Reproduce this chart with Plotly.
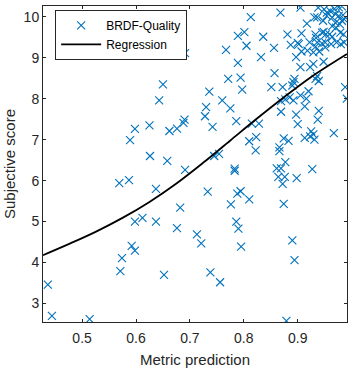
import plotly.graph_objects as go

# Scatter data (metric prediction, subjective score)
metric_pred = [
    0.4365, 0.444, 0.514, 0.569, 0.587, 0.637, 0.598, 0.612, 0.637, 0.592,
    0.598, 0.574, 0.571, 0.652, 0.676, 0.682, 0.650, 0.643, 0.589, 0.598,
    0.625, 0.662, 0.676, 0.626, 0.658, 0.690, 0.688, 0.691, 0.691,
    0.813, 0.868, 0.789, 0.801, 0.805, 0.836, 0.767, 0.856, 0.881, 0.887,
    0.900, 0.907, 0.917, 0.931, 0.832, 0.789, 0.771, 0.794, 0.797, 0.736,
    0.760, 0.730, 0.775, 0.728, 0.742, 0.786, 0.815, 0.828, 0.810, 0.823,
    0.822, 0.745, 0.754, 0.783, 0.783, 0.733, 0.788, 0.794, 0.810, 0.776,
    0.713, 0.721, 0.786, 0.790, 0.795, 0.738, 0.756, 0.879, 0.890, 0.894,
    0.874, 0.864, 0.876, 0.872, 0.898, 0.861, 0.869, 0.877, 0.927, 0.866,
    0.866, 0.874, 0.883, 0.913, 0.925, 0.929, 0.923, 0.931, 0.967,
    0.869, 0.877, 0.885, 0.892, 0.905, 0.916, 0.920, 0.869, 0.897, 0.913,
    0.939, 0.900, 0.937, 0.988, 0.991, 0.857, 0.851, 0.872, 0.894, 0.892,
    0.890, 0.897, 0.936, 0.933, 0.939, 0.929, 0.948, 0.923, 0.905,
    0.905, 0.938, 0.949, 0.954, 0.960, 0.968, 0.976, 0.982, 0.936, 0.947,
    0.954, 0.964, 0.970, 0.976, 0.984, 0.986, 0.970, 0.978, 0.982, 0.964,
    0.971, 0.945, 0.948, 0.959, 0.964, 0.979, 0.985, 0.936, 0.945, 0.951,
    0.962, 0.972, 0.980, 0.986, 0.951, 0.933, 0.929, 0.940, 0.934, 0.918,
    0.907, 0.922, 0.902, 0.933, 0.952,
]
subjective = [
    3.46, 2.70, 2.62, 5.94, 6.01, 5.80, 5.00, 5.09, 5.00, 4.41,
    4.29, 4.11, 3.79, 3.70, 4.84, 5.34, 8.35, 7.96, 6.99, 7.26,
    7.35, 7.21, 7.27, 6.60, 6.48, 7.49, 7.41, 6.26, 9.11,
    9.99, 10.10, 9.53, 9.62, 9.29, 9.51, 9.19, 9.24, 9.57, 9.31,
    9.36, 9.59, 9.83, 9.98, 9.01, 8.87, 8.48, 8.51, 8.22, 8.17,
    7.96, 7.79, 7.76, 7.57, 7.31, 7.45, 7.39, 7.39, 6.96, 7.06,
    6.74, 6.60, 6.65, 6.29, 6.24, 5.73, 5.68, 5.74, 5.54, 5.42,
    4.69, 4.47, 5.00, 4.83, 4.39, 3.76, 3.52, 2.58, 4.54, 4.06,
    5.43, 6.09, 6.09, 5.92, 6.06, 6.30, 6.30, 6.45, 6.28, 6.81,
    6.72, 7.03, 6.97, 7.04, 7.20, 7.13, 7.08, 7.00, 7.16,
    7.94, 7.98, 8.03, 7.96, 8.08, 8.00, 8.18, 7.68, 7.61, 7.81,
    7.70, 7.38, 7.49, 8.28, 8.00, 8.62, 8.28, 8.28, 8.48, 8.40,
    8.32, 9.01, 8.55, 8.48, 8.43, 8.85, 8.90, 8.77, 8.77,
    10.22, 10.22, 10.18, 10.10, 10.14, 10.19, 10.23, 10.25, 9.98, 9.90,
    10.02, 9.98, 10.06, 10.02, 10.04, 9.94, 9.85, 9.82, 9.90, 9.77,
    9.73, 9.61, 9.63, 9.57, 9.51, 9.61, 9.57, 9.37, 9.35, 9.37,
    9.33, 9.37, 9.33, 9.37, 9.25, 9.27, 9.13, 9.15, 9.48, 9.17,
    9.15, 9.37, 9.33, 9.56, 9.57,
]

# Regression curve points
reg_x = [0.4275, 0.475, 0.525, 0.575, 0.625, 0.675, 0.725, 0.775, 0.825, 0.875, 0.925, 0.9914]
reg_y = [4.18, 4.45, 4.75, 5.09, 5.48, 5.93, 6.44, 6.98, 7.52, 8.04, 8.53, 9.09]

x_ticks = [0.5, 0.6, 0.7, 0.8, 0.9]
y_ticks = [3, 4, 5, 6, 7, 8, 9, 10]

AX = "#262626"
FONT = "Liberation Sans, Arial, sans-serif"

fig = go.Figure()
fig.add_trace(go.Scatter(
    x=metric_pred, y=subjective, mode="markers", name="BRDF-Quality",
    marker=dict(symbol="x-thin-open", size=8, color="#0072BD",
                line=dict(width=1.1, color="#0072BD")),
    cliponaxis=True,
))
fig.add_trace(go.Scatter(
    x=reg_x, y=reg_y, mode="lines", name="Regression",
    line=dict(color="black", width=1.8, shape="spline", smoothing=1.0),
))

fig.update_layout(
    width=353, height=370,
    margin=dict(l=43, r=6, t=5, b=47),
    paper_bgcolor="white", plot_bgcolor="white",
    font=dict(family=FONT, size=14, color=AX),
    showlegend=True,
    legend=dict(
        x=0.04, y=0.988, xanchor="left", yanchor="top",
        bgcolor="white", bordercolor=AX, borderwidth=1,
        font=dict(family=FONT, size=12, color="black"),
        itemwidth=40, tracegroupgap=0,
    ),
    xaxis=dict(
        range=[0.4275, 0.9914], tickvals=x_ticks,
        ticktext=[str(v) for v in x_ticks],
        showgrid=False, zeroline=False,
        showline=True, linecolor=AX, linewidth=1, mirror="ticks",
        ticks="inside", ticklen=3, tickcolor=AX,
        ticklabelstandoff=3,
        tickfont=dict(family=FONT, size=14, color=AX),
        title=dict(text="Metric prediction", standoff=9,
                   font=dict(family=FONT, size=15, color=AX)),
    ),
    yaxis=dict(
        range=[2.55, 10.26], tickvals=y_ticks,
        showgrid=False, zeroline=False,
        showline=True, linecolor=AX, linewidth=1, mirror="ticks",
        ticks="inside", ticklen=3, tickcolor=AX,
        tickfont=dict(family=FONT, size=14, color=AX),
        title=dict(text="Subjective score", standoff=4,
                   font=dict(family=FONT, size=15, color=AX)),
    ),
)

fig.write_html("out.html")
